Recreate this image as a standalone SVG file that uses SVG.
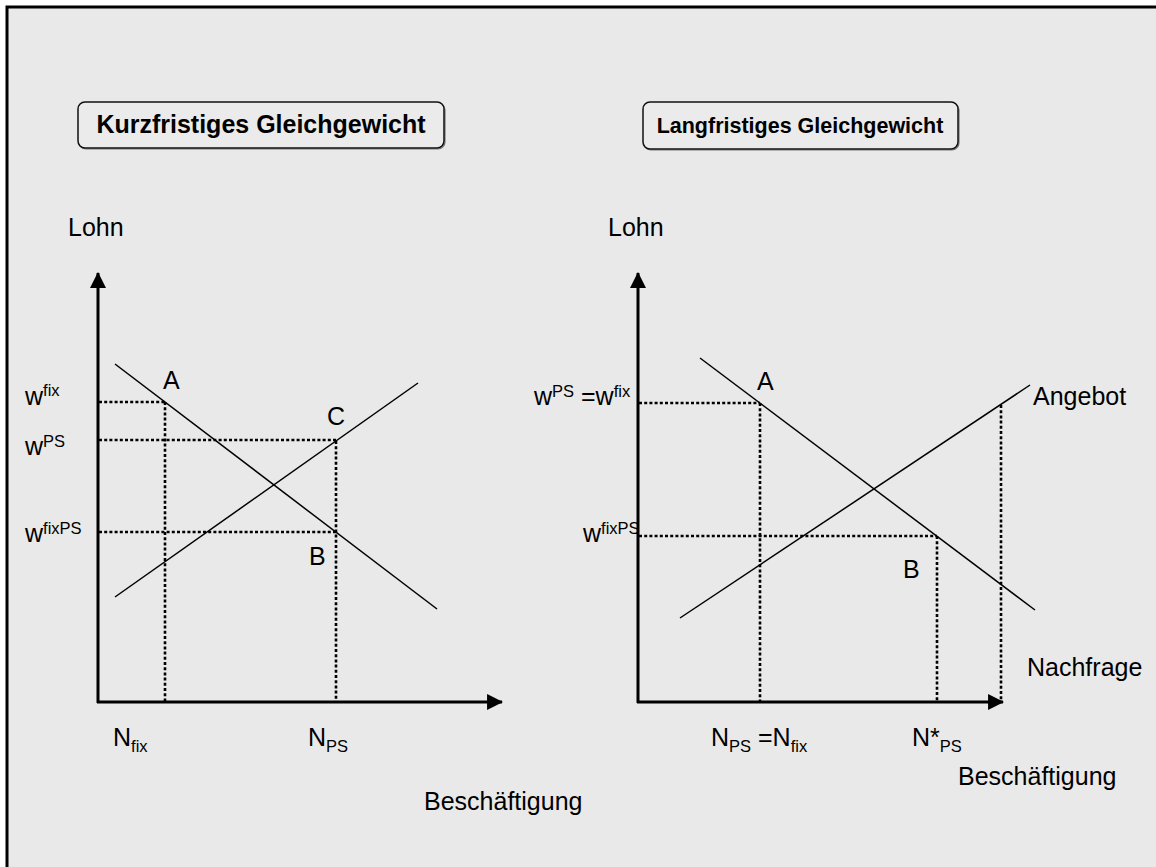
<svg xmlns="http://www.w3.org/2000/svg" width="1156" height="867" viewBox="0 0 1156 867">
<style>
text{font-family:"Liberation Sans",Arial,sans-serif;fill:#000;font-size:25px}
.title{font-weight:bold}
.sm{font-size:16.5px}
.box{fill:#ebebeb;stroke:#111;stroke-width:1.5}
.shadow{fill:none;stroke:#777;stroke-width:1.2}
.axis{stroke:#000;stroke-width:3;fill:none}
.curve{stroke:#000;stroke-width:1.5;fill:none}
.dot{stroke:#000;stroke-width:2.6;stroke-dasharray:3 2.2;fill:none}
</style>
<defs>
<marker id="arr" markerUnits="userSpaceOnUse" markerWidth="16" markerHeight="16" viewBox="0 0 15 15" refX="14" refY="7.5" orient="auto">
<path d="M0,0 L15,7.5 L0,15 z" fill="#000"/>
</marker>
</defs>
<rect x="0" y="0" width="1156" height="867" fill="#fff"/>
<rect x="7" y="7" width="1160" height="870" fill="#e9e9e9" stroke="#000" stroke-width="3"/>

<g id="title-left">
<rect class="shadow" x="79" y="103" width="366" height="46" rx="7"/>
<rect class="box" x="78" y="102" width="366" height="46" rx="7"/>
<text class="title" x="261" y="133" text-anchor="middle">Kurzfristiges Gleichgewicht</text>
</g>
<g id="title-right">
<rect class="shadow" x="644" y="103" width="315" height="47" rx="7"/>
<rect class="box" x="643" y="102" width="315" height="47" rx="7"/>
<text class="title" x="800" y="133" text-anchor="middle" style="font-size:21.5px">Langfristiges Gleichgewicht</text>
</g>

<g id="connectors">
<!-- left axes -->
<line class="axis" x1="98" y1="703" x2="98" y2="273" marker-end="url(#arr)"/>
<line class="axis" x1="97" y1="702" x2="502" y2="702" marker-end="url(#arr)"/>
<!-- left curves -->
<line class="curve" x1="115" y1="364" x2="437" y2="609"/>
<line class="curve" x1="115" y1="597" x2="418" y2="383"/>
<!-- left dotted -->
<line class="dot" x1="99" y1="402" x2="165" y2="402"/>
<line class="dot" x1="165" y1="402" x2="165" y2="701"/>
<line class="dot" x1="99" y1="440" x2="336" y2="440"/>
<line class="dot" x1="336" y1="441" x2="336" y2="701"/>
<line class="dot" x1="99" y1="532" x2="336" y2="532"/>
<!-- right axes -->
<line class="axis" x1="638" y1="703" x2="638" y2="273" marker-end="url(#arr)"/>
<line class="axis" x1="637" y1="702" x2="1003" y2="702" marker-end="url(#arr)"/>
<!-- right curves -->
<line class="curve" x1="700" y1="358" x2="1035" y2="610"/>
<line class="curve" x1="680" y1="618" x2="1030" y2="385"/>
<!-- right dotted -->
<line class="dot" x1="639" y1="403" x2="760" y2="403"/>
<line class="dot" x1="760" y1="403" x2="760" y2="701"/>
<line class="dot" x1="639" y1="536" x2="937" y2="536"/>
<line class="dot" x1="937" y1="536" x2="937" y2="701"/>
<line class="dot" x1="1001" y1="405" x2="1001" y2="701"/>
</g>

<g id="labels-left">
<text x="68" y="236">Lohn</text>
<text x="25" y="405">w<tspan class="sm" dy="-9">fix</tspan></text>
<text x="25" y="455">w<tspan class="sm" dy="-8">PS</tspan></text>
<text x="25" y="542">w<tspan class="sm" dy="-8">fixPS</tspan></text>
<text x="163" y="389">A</text>
<text x="327" y="425">C</text>
<text x="309" y="565">B</text>
<text x="113" y="746">N<tspan class="sm" dy="6">fix</tspan></text>
<text x="308" y="746">N<tspan class="sm" dy="6">PS</tspan></text>
<text x="424" y="810">Beschäftigung</text>
</g>

<g id="labels-right">
<text x="608" y="236">Lohn</text>
<text x="534" y="405">w<tspan class="sm" dy="-8">PS</tspan><tspan dy="8"> =w</tspan><tspan class="sm" dy="-8">fix</tspan></text>
<text x="583" y="542">w<tspan class="sm" dy="-8">fixPS</tspan></text>
<text x="757" y="390">A</text>
<text x="903" y="578">B</text>
<text x="1033" y="405">Angebot</text>
<text x="1027" y="676">Nachfrage</text>
<text x="711" y="746">N<tspan class="sm" dy="6">PS</tspan><tspan dy="-6"> =N</tspan><tspan class="sm" dy="6">fix</tspan></text>
<text x="912" y="746">N*<tspan class="sm" dy="6">PS</tspan></text>
<text x="958" y="785">Beschäftigung</text>
</g>
</svg>
